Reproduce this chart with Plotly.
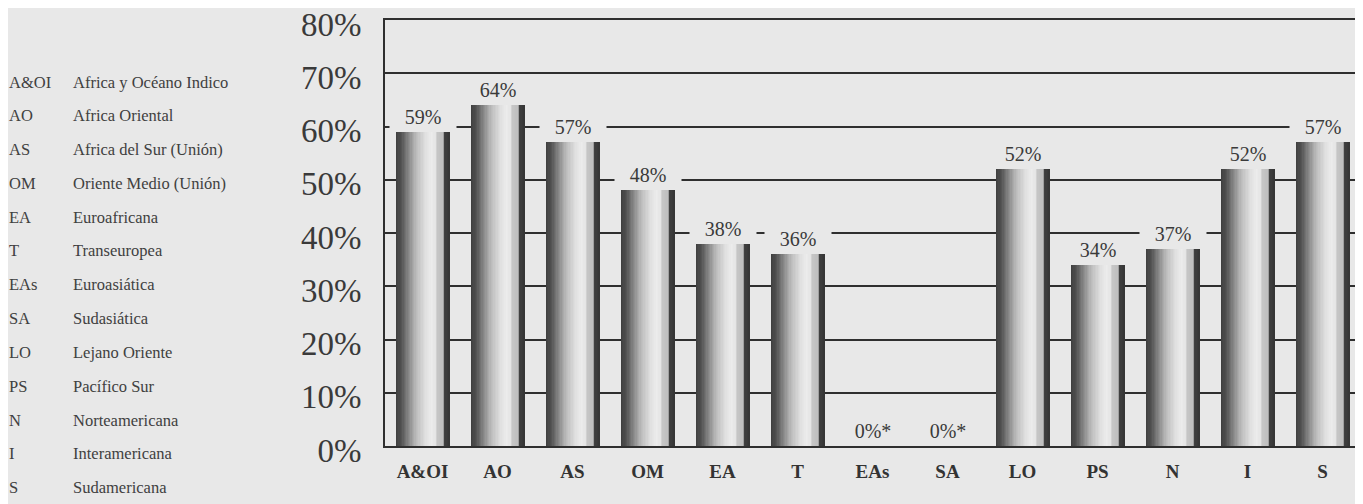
import plotly.graph_objects as go

# ---- data ----
categories = ["A&OI", "AO", "AS", "OM", "EA", "T", "EAs", "SA", "LO", "PS", "N", "I", "S"]
values = [59, 64, 57, 48, 38, 36, 0, 0, 52, 34, 37, 52, 57]
legend_codes = ["A&OI", "AO", "AS", "OM", "EA", "T", "EAs", "SA", "LO", "PS", "N", "I", "S"]
legend_names = ["Africa y Océano Indico", "Africa Oriental", "Africa del Sur (Unión)",
                "Oriente Medio (Unión)", "Euroafricana", "Transeuropea", "Euroasiática",
                "Sudasiática", "Lejano Oriente", "Pacífico Sur", "Norteamericana",
                "Interamericana", "Sudamericana"]
y_tick_values = [0, 10, 20, 30, 40, 50, 60, 70, 80]
y_tick_labels = ["0%", "10%", "20%", "30%", "40%", "50%", "60%", "70%", "80%"]
value_labels = [f"{v}%" + ("*" if v == 0 else "") for v in values]

# ---- layout geometry (page body has an 8px margin) ----
OFF = 8
W, H = 1363 - OFF, 504 - OFF
ML, MT = 385 - OFF, 20 - OFF
PH = 426
PW = 975
MB = H - MT - PH
MR = W - ML - PW
BG = "#e8e8e8"
LINE = "#2f2f2f"
SERIF = "Liberation Serif"

# cylinder shading (position across bar -> grey level)
stops = [(0.00, 62), (0.10, 80), (0.22, 128), (0.38, 186), (0.54, 222), (0.66, 236),
         (0.75, 228), (0.77, 198), (0.885, 190), (0.895, 66), (1.00, 52)]


def grey(t):
    for (t0, g0), (t1, g1) in zip(stops[:-1], stops[1:]):
        if t0 <= t <= t1:
            g = g0 + (g1 - g0) * (t - t0) / (t1 - t0 if t1 > t0 else 1)
            g = int(round(g))
            return f"rgb({g},{g},{g})"
    g = stops[-1][1]
    return f"rgb({g},{g},{g})"


fig = go.Figure()
BW = 0.72
N = 40
sw = BW / N
for k in range(N):
    t = (k + 0.5) / N
    width = min(2 * sw, BW - k * sw)
    fig.add_trace(go.Bar(
        x=categories, y=values, width=width, offset=-BW / 2 + k * sw,
        marker=dict(color=grey(t), line=dict(width=0)),
        showlegend=False, hoverinfo="skip"))

# value labels above bars
for c, v, lab in zip(categories, values, value_labels):
    fig.add_annotation(x=c, y=v, text=lab, showarrow=False, yshift=15,
                       font=dict(family=SERIF, size=20, color="#3a3a3a"),
                       bgcolor=BG, width=64, borderpad=1)

# left-side legend of abbreviations
for i, (code, name) in enumerate(zip(legend_codes, legend_names)):
    yc = 82 + i * 33.8 - OFF
    yp = (MT + PH - yc) / PH
    fig.add_annotation(xref="paper", yref="paper", x=(7 - OFF - ML) / PW, y=yp,
                       xanchor="left", yanchor="middle", text=code, showarrow=False,
                       font=dict(family=SERIF, size=16.5, color="#404040"))
    fig.add_annotation(xref="paper", yref="paper", x=(71 - OFF - ML) / PW, y=yp,
                       xanchor="left", yanchor="middle", text=name, showarrow=False,
                       font=dict(family=SERIF, size=16.5, color="#404040"))

fig.update_layout(
    width=W, height=H, margin=dict(l=ML, r=MR, t=MT, b=MB, autoexpand=False),
    paper_bgcolor=BG, plot_bgcolor=BG, barmode="overlay", bargap=0,
    font=dict(family=SERIF),
)
fig.update_xaxes(showline=True, mirror=True, linecolor=LINE, linewidth=2,
                 showgrid=False, ticks="", ticklabelstandoff=7, automargin=False,
                 tickfont=dict(family=SERIF, size=19, color="#333333", weight="bold"),
                 range=[-0.5, len(categories) - 0.5])
fig.update_yaxes(range=[0, 80], tickvals=y_tick_values, ticktext=y_tick_labels,
                 showline=True, linecolor=LINE, linewidth=2, automargin=False,
                 showgrid=True, gridcolor=LINE, gridwidth=1.6, zeroline=False,
                 ticks="", ticklabelstandoff=15, ticklabelshift=4,
                 ticklabeloverflow="allow",
                 tickfont=dict(family=SERIF, size=33, color="#3a3a3a"))

fig.write_html("out.html")
